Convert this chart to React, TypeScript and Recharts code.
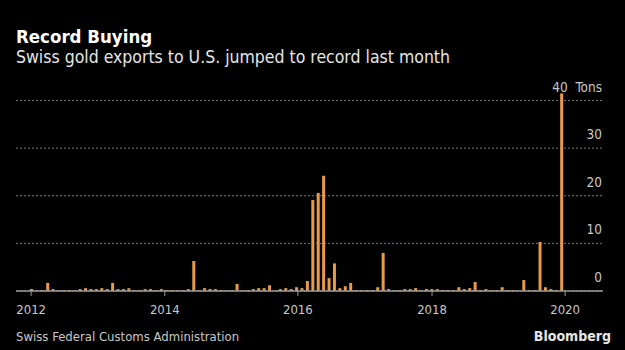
import React from 'react';
import { BarChart, Bar, XAxis, YAxis, CartesianGrid } from 'recharts';

// monthly Swiss gold exports to the U.S., tons (oldest first)
const tons = [
  0.4, 0.1, 0.2, 1.7, 0.4, 0.1, 0.2, 0.2, 0.1, 0.4,
  0.6, 0.4, 0.4, 0.6, 0.4, 1.7, 0.4, 0.4, 0.6, 0.2,
  0.2, 0.4, 0.4, 0.2, 0.4, 0.2, 0.2, 0.1, 0.2, 0.4,
  6.3, 0.1, 0.6, 0.4, 0.4, 0.2, 0.1, 0.2, 1.5, 0.1,
  0.2, 0.4, 0.6, 0.6, 1.2, 0.1, 0.4, 0.6, 0.4, 0.8,
  0.6, 2.1, 19.1, 20.6, 24.2, 2.7, 5.8, 0.6, 1.0, 1.7,
  0.2, 0.2, 0.2, 0.2, 0.8, 8.0, 0.4, 0.1, 0.2, 0.4,
  0.4, 0.6, 0.2, 0.4, 0.4, 0.4, 0.2, 0.2, 0.2, 0.8,
  0.4, 0.6, 1.9, 0.2, 0.4, 0.2, 0.2, 0.8, 0.2, 0.2,
  0.1, 2.3, 0.2, 0.2, 10.3, 0.8, 0.4, 0.2, 41.5,
];

// where each year starts, in bar positions
const yearTicks = [-0.1, 24.6, 49.2, 74, 98.6];
const yearLabels = ['2012', '2014', '2016', '2018', '2020'];

const tonTicks = [0, 10, 20, 30, 40];

const data = tons.map((v, i) => ({ i, v }));

const FONT = '"DejaVu Sans Condensed", "DejaVu Sans", sans-serif';

const TonTick = (props: any) => {
  const { x, y, payload } = props;
  const label = payload.value === 40 ? '40\u00a0\u00a0Tons' : String(payload.value);
  return (
    <text x={x + 1} y={y - 9} textAnchor="end" fill="#c8c8c8" fontSize={13.5} fontFamily={FONT}>
      {label}
    </text>
  );
};

const YearTick = (props: any) => {
  const { x, y, index } = props;
  return (
    <text x={x} y={y + 16} textAnchor="middle" fill="#c8c8c8" fontSize={13} fontFamily={FONT}>
      {yearLabels[index]}
    </text>
  );
};

export default function App() {
  return (
    <div
      style={{
        position: 'fixed',
        left: 0,
        top: 0,
        width: 625,
        height: 350,
        background: '#000',
        fontFamily: FONT,
        overflow: 'hidden',
      }}
    >
      <div style={{ position: 'absolute', left: 16, top: 26, color: '#fff', fontSize: 18.5, fontWeight: 'bold' }}>
        Record Buying
      </div>
      <div style={{ position: 'absolute', left: 16, top: 47, color: '#e6e6e6', fontSize: 17.5 }}>
        Swiss gold exports to U.S. jumped to record last month
      </div>

      <div style={{ position: 'absolute', left: 0, top: 0 }}>
        <BarChart width={625} height={350} data={data} margin={{ top: 91, right: 22, left: 16, bottom: 0 }}>
          <CartesianGrid vertical={false} stroke="#777" strokeDasharray="2 2" syncWithTicks />
          <XAxis
            dataKey="i"
            type="number"
            domain={[-2.9, 105.6]}
            ticks={yearTicks}
            interval={0}
            height={59}
            axisLine={{ stroke: '#999', strokeWidth: 1.5 }}
            tickLine={{ stroke: '#999' }}
            tickSize={5}
            tick={<YearTick />}
            allowDataOverflow
          />
          <YAxis
            orientation="right"
            mirror
            type="number"
            domain={[0, 42]}
            ticks={tonTicks}
            interval={0}
            width={40}
            axisLine={false}
            tickLine={false}
            tickSize={0}
            tick={<TonTick />}
          />
          <Bar dataKey="v" fill="#e89a47" barSize={3} isAnimationActive={false} />
        </BarChart>
      </div>

      <div style={{ position: 'absolute', left: 16, top: 329, color: '#c8c8c8', fontSize: 13 }}>
        Swiss Federal Customs Administration
      </div>
      <div style={{ position: 'absolute', right: 14, top: 328, color: '#e6e6e6', fontSize: 14, fontWeight: 'bold' }}>
        Bloomberg
      </div>
    </div>
  );
}
